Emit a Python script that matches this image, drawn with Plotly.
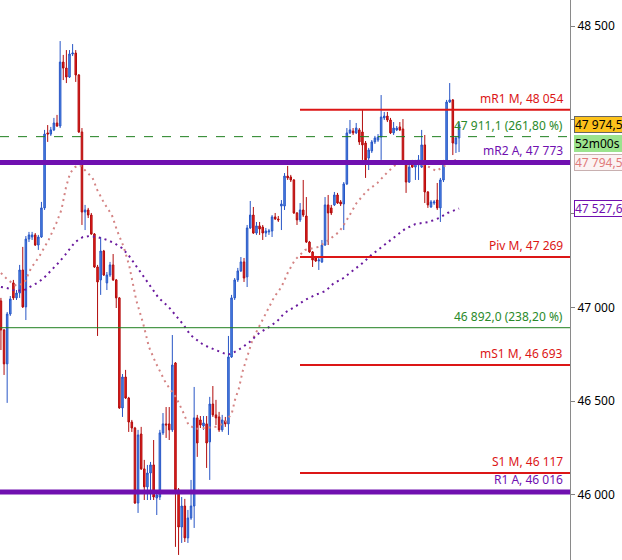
import plotly.graph_objects as go

# ---- candle data ----
open_ = [47035, 46880, 46699, 46965, 47131, 47051, 47077, 47200, 47003, 47365,
         47376, 47387, 47333, 47376, 47531, 47931, 47925, 47947, 47984, 47968,
         48309, 48277, 48229, 48352, 48357, 48240, 47936, 47509, 47520, 47493,
         47392, 47216, 47147, 47301, 47131, 47173, 47227, 47147, 47051, 46464,
         46629, 46517, 46389, 46357, 45957, 46325, 46139, 46043, 46117, 46160,
         45984, 45989, 46331, 46379, 46379, 46347, 46704, 46027, 45829, 45941,
         45771, 45877, 45941, 46411, 46400, 46368, 46379, 46283, 46485, 46427,
         46416, 46347, 46395, 46379, 46736, 47051, 47147, 47195, 47243, 47163,
         47424, 47493, 47397, 47435, 47429, 47397, 47403, 47408, 47483, 47472,
         47541, 47541, 47701, 47696, 47680, 47504, 47467, 47520, 47488, 47349,
         47296, 47264, 47248, 47243, 47333, 47547, 47531, 47547, 47600, 47563,
         47552, 47659, 47931, 47941, 47931, 47947, 47936, 47877, 47797, 47835,
         47883, 47893, 47909, 48011, 48021, 48000, 47931, 47947, 47963, 47952,
         47776, 47669, 47771, 47749, 47760, 47749, 47867, 47616, 47536, 47557,
         47573, 47531, 47680, 47776, 48096, 48107, 47872, 47904]
close_ = [46880, 46699, 46965, 47045, 47051, 47077, 47200, 47003, 47365, 47387,
          47387, 47333, 47376, 47531, 47925, 47925, 47947, 47984, 47968, 48309,
          48277, 48229, 48352, 48357, 48240, 47936, 47509, 47520, 47493, 47392,
          47216, 47136, 47301, 47173, 47173, 47227, 47147, 47051, 46464, 46629,
          46517, 46389, 46357, 45957, 46320, 46139, 46043, 46117, 46160, 45989,
          46000, 46331, 46379, 46373, 46347, 46693, 46027, 45829, 45941, 45771,
          45877, 45941, 46411, 46277, 46373, 46384, 46277, 46485, 46427, 46411,
          46347, 46400, 46379, 46736, 47051, 47147, 47195, 47243, 47157, 47424,
          47493, 47397, 47435, 47419, 47397, 47408, 47408, 47483, 47472, 47467,
          47552, 47701, 47691, 47680, 47504, 47467, 47520, 47493, 47349, 47296,
          47253, 47248, 47253, 47333, 47547, 47504, 47504, 47600, 47557, 47552,
          47659, 47931, 47947, 47931, 47957, 47883, 47867, 47787, 47840, 47883,
          47904, 47909, 48016, 48021, 48000, 47931, 47957, 47957, 47947, 47776,
          47669, 47749, 47749, 47771, 47787, 47867, 47616, 47547, 47563, 47563,
          47531, 47680, 47776, 48096, 48107, 47877, 47904, 47974.5]
high_ = [47051, 46885, 46976, 47061, 47147, 47093, 47227, 47323, 47381, 47403,
         47403, 47397, 47387, 47563, 47947, 47973, 47963, 48011, 48027, 48421,
         48347, 48373, 48373, 48405, 48373, 48245, 47957, 47547, 47531, 47504,
         47397, 47227, 47376, 47307, 47189, 47243, 47285, 47152, 47056, 46645,
         46667, 46523, 46400, 46363, 46347, 46363, 46187, 46160, 46176, 46293,
         46011, 46347, 46437, 46469, 46469, 46853, 46709, 46037, 45989, 45979,
         45920, 46080, 46576, 46427, 46421, 46421, 46421, 46523, 46581, 46507,
         46443, 46427, 46416, 46848, 47067, 47157, 47211, 47269, 47264, 47440,
         47568, 47536, 47456, 47456, 47440, 47424, 47419, 47493, 47504, 47488,
         47573, 47717, 47755, 47707, 47685, 47509, 47557, 47680, 47589, 47355,
         47301, 47275, 47264, 47360, 47589, 47600, 47547, 47616, 47611, 47573,
         47669, 47957, 48000, 47957, 47984, 47957, 48053, 47888, 47851, 47893,
         47915, 47925, 48133, 48043, 48043, 48011, 47989, 47968, 47989, 48005,
         47781, 47760, 47787, 47787, 47813, 47947, 47920, 47621, 47573, 47573,
         47664, 47691, 47787, 48107, 48197, 48112, 47915, 47989]
low_ = [46773, 46640, 46491, 46955, 47040, 47040, 47051, 46997, 46933, 47349,
        47360, 47328, 47307, 47371, 47520, 47883, 47915, 47941, 47963, 47957,
        48213, 48197, 48224, 48341, 48203, 47931, 47440, 47413, 47477, 47387,
        47211, 46848, 47067, 47168, 47093, 47163, 47141, 46997, 46459, 46416,
        46512, 46336, 46336, 45952, 45904, 46133, 45973, 45973, 45973, 45973,
        45893, 45973, 46320, 46304, 46293, 46336, 45723, 45680, 45744, 45749,
        45744, 45867, 45824, 46203, 46357, 46347, 46144, 46080, 46416, 46373,
        46336, 46336, 46363, 46320, 46731, 47040, 47136, 47189, 47136, 47109,
        47419, 47392, 47387, 47387, 47360, 47376, 47387, 47376, 47467, 47456,
        47413, 47520, 47680, 47669, 47499, 47440, 47456, 47483, 47344, 47291,
        47216, 47243, 47200, 47237, 47328, 47333, 47493, 47541, 47552, 47541,
        47413, 47653, 47925, 47920, 47925, 47867, 47787, 47691, 47733, 47824,
        47872, 47883, 47787, 48000, 47989, 47925, 47920, 47941, 47941, 47771,
        47611, 47664, 47744, 47680, 47680, 47744, 47557, 47531, 47531, 47547,
        47520, 47456, 47669, 47771, 48091, 47813, 47824, 47829]
bar_index = list(range(len(open_)))

# ---- moving averages (candle position, value) ----
fast_ma_x = [0, 2.2, 5, 7.5, 9.7, 12.2, 15.3, 17.8, 19.4, 20.9, 22.2, 23.8, 25.3, 26.9,
             29.4, 30.9, 33.1, 35.6, 37.2, 39.4, 41.2, 43.4, 45.6, 47.5, 49.7, 52.9,
             56.1, 58.3, 60.2, 62.5, 65.6, 68.8, 71.9, 74.1, 75.1, 76.4, 77.5, 79.1,
             80.7, 82.3, 83.9, 85.5, 87.7, 90, 92, 94.3, 97.6, 101.9, 105.2, 108.5,
             110.8, 114.1, 117.4, 120.8, 124.1, 127.4, 130.7, 133.4, 137.4, 139.7,
             141.7, 144, 147]
fast_ma_y = [47184, 47147, 47115, 47131, 47211, 47269, 47360, 47451, 47520, 47643,
             47717, 47749, 47760, 47733, 47691, 47627, 47557, 47493, 47413, 47323,
             47221, 47040, 46917, 46789, 46704, 46597, 46523, 46448, 46373, 46352,
             46357, 46363, 46384, 46437, 46507, 46571, 46656, 46747, 46827, 46880,
             46933, 46987, 47056, 47109, 47184, 47253, 47307, 47323, 47360, 47403,
             47461, 47557, 47621, 47664, 47723, 47771, 47776, 47771, 47749, 47728,
             47749, 47771, 47794.5]
slow_ma_x = [0, 1.9, 3.8, 5.3, 7.5, 9.1, 10.6, 12.2, 14.4, 16.3, 18.4, 20.6, 22.2, 23.8,
             26.3, 28.4, 30.9, 34.1, 36.3, 38.8, 40.9, 42.5, 44.3, 46.5, 48.7, 50.6,
             53.8, 56, 58.6, 60.8, 62.4, 64.6, 66.5, 68.7, 70.9, 72.8, 75, 77.2, 79.8,
             82.9, 86.1, 88.7, 91, 94.3, 97.6, 100.9, 104.2, 106.5, 109.9, 113.2,
             116.5, 118.5, 121.5, 124.1, 126.7, 129.7, 133, 137.3, 140.6, 143.3, 147]
slow_ma_y = [47109, 47104, 47093, 47088, 47093, 47109, 47120, 47136, 47168, 47200,
             47237, 47280, 47317, 47349, 47376, 47381, 47376, 47360, 47344, 47317,
             47280, 47243, 47200, 47147, 47099, 47051, 47003, 46960, 46907, 46853,
             46832, 46805, 46789, 46773, 46757, 46747, 46763, 46784, 46816, 46864,
             46896, 46928, 46971, 47003, 47040, 47067, 47088, 47125, 47157, 47200,
             47243, 47275, 47312, 47349, 47381, 47419, 47445, 47456, 47477, 47504,
             47527.6]

# ---- horizontal levels ----
level_names = ["mR1 M, 48 054", "mR2 A, 47 773", "Piv M, 47 269", "mS1 M, 46 693",
               "S1 M, 46 117", "R1 A, 46 016"]
level_values = [48054, 47773, 47269, 46693, 46117, 46016]
level_kinds = ["red", "purple", "red", "red", "red", "purple"]
fib_names = ["47 911,1 (261,80 %)", "46 892,0 (238,20 %)"]
fib_values = [47911.1, 46892.0]

last_price = 47974.5
timer_text = "52m00s"
timer_level = 47872
fast_ma_last = 47794.5
slow_ma_last = 47527.6

y_ticks = [46000, 46500, 47000, 47500, 48000, 48500]
# 47 500 and 48 000 sit under the price tags in the reference, so no label shows
y_tick_text = ["46 000", "46 500", "47 000", "", "", "48 500"]

RED = "#dc1616"
PURPLE = "#7010b0"
GREEN = "#1f7f1f"
FONT = "Noto Sans"


def fmt(v):
    return f"{v:,.1f}".replace(",", " ").replace(".", ",")


fig = go.Figure()
fig.add_trace(go.Candlestick(
    x=bar_index, open=open_, high=high_, low=low_, close=close_,
    increasing=dict(line=dict(color="#2856c6", width=1), fillcolor="#4f8ae6"),
    decreasing=dict(line=dict(color="#b20c0c", width=1), fillcolor="#ea2020"),
    whiskerwidth=0, hoverinfo="skip", showlegend=False))
fig.add_trace(go.Scatter(x=fast_ma_x, y=fast_ma_y, mode="lines",
                         line=dict(color="#d48484", width=2, dash="2px,4px"),
                         hoverinfo="skip", showlegend=False))
fig.add_trace(go.Scatter(x=slow_ma_x, y=slow_ma_y, mode="lines",
                         line=dict(color="#6a1a9e", width=2, dash="2px,4px"),
                         hoverinfo="skip", showlegend=False))

shapes = []
annotations = []
red_start = 300 / 570
for name, val, kind in zip(level_names, level_values, level_kinds):
    if kind == "red":
        shapes.append(dict(type="line", xref="paper", yref="y", x0=red_start, x1=1,
                           y0=val, y1=val, line=dict(color=RED, width=2)))
        col = RED
    else:
        shapes.append(dict(type="line", xref="paper", yref="y", x0=0, x1=1,
                           y0=val, y1=val, line=dict(color=PURPLE, width=5)))
        col = PURPLE
    annotations.append(dict(x=0.992, xref="paper", y=val, yref="y", text=name,
                            showarrow=False, xanchor="right", yanchor="bottom",
                            yshift=1 if kind == "red" else 2,
                            font=dict(family=FONT, size=12, color=col)))
for i, (name, val) in enumerate(zip(fib_names, fib_values)):
    shapes.append(dict(type="line", xref="paper", yref="y", x0=0, x1=1, y0=val, y1=val,
                       line=dict(color=GREEN, width=1, dash="dash" if i == 0 else "solid")))
    annotations.append(dict(x=0.992, xref="paper", y=val, yref="y", text=name,
                            showarrow=False, xanchor="right", yanchor="bottom", yshift=1,
                            font=dict(family=FONT, size=12, color="#2a8a2a")))

# right-side price tags: text, value, background, text colour, border, vertical nudge
tags = [
    (fmt(last_price), last_price, "#fcc21b", "#000000", "#666666", 0),
    (timer_text, timer_level, "#9be38d", "#000000", "#9be38d", 0),
    (fmt(fast_ma_last), fast_ma_last, "#fbf3f3", "#e07a7a", "#c8b0b0", -3.5),
    (fmt(slow_ma_last), slow_ma_last, "#ffffff", PURPLE, PURPLE, 0),
]
for text, val, bg, fg, border, nudge in tags:
    annotations.append(dict(x=1, xref="paper", y=val, yref="y", text=text, showarrow=False,
                            xanchor="left", yanchor="middle", xshift=4, yshift=nudge,
                            width=54, height=15, align="left",
                            bgcolor=bg, bordercolor=border, borderwidth=1, borderpad=0,
                            font=dict(family=FONT, size=12, color=fg)))

fig.update_layout(
    width=622, height=560,
    margin=dict(l=0, r=52, t=0, b=0),
    paper_bgcolor="white", plot_bgcolor="white",
    separators=", ",
    showlegend=False,
    shapes=shapes, annotations=annotations,
    xaxis=dict(visible=False, range=[-0.3, 182.6], rangeslider=dict(visible=False)),
    yaxis=dict(side="right", range=[45653, 48640], tickvals=y_ticks, ticktext=y_tick_text,
               ticks="outside", ticklen=4, tickcolor="#808080", showline=True,
               linecolor="#8a8a8a", linewidth=1, showgrid=False, zeroline=False,
               tickfont=dict(family=FONT, size=12, color="#000000")),
)
fig.write_html("out.html", config={"displayModeBar": False},
               post_script="document.body.style.margin='0';document.body.style.overflow='hidden';")
